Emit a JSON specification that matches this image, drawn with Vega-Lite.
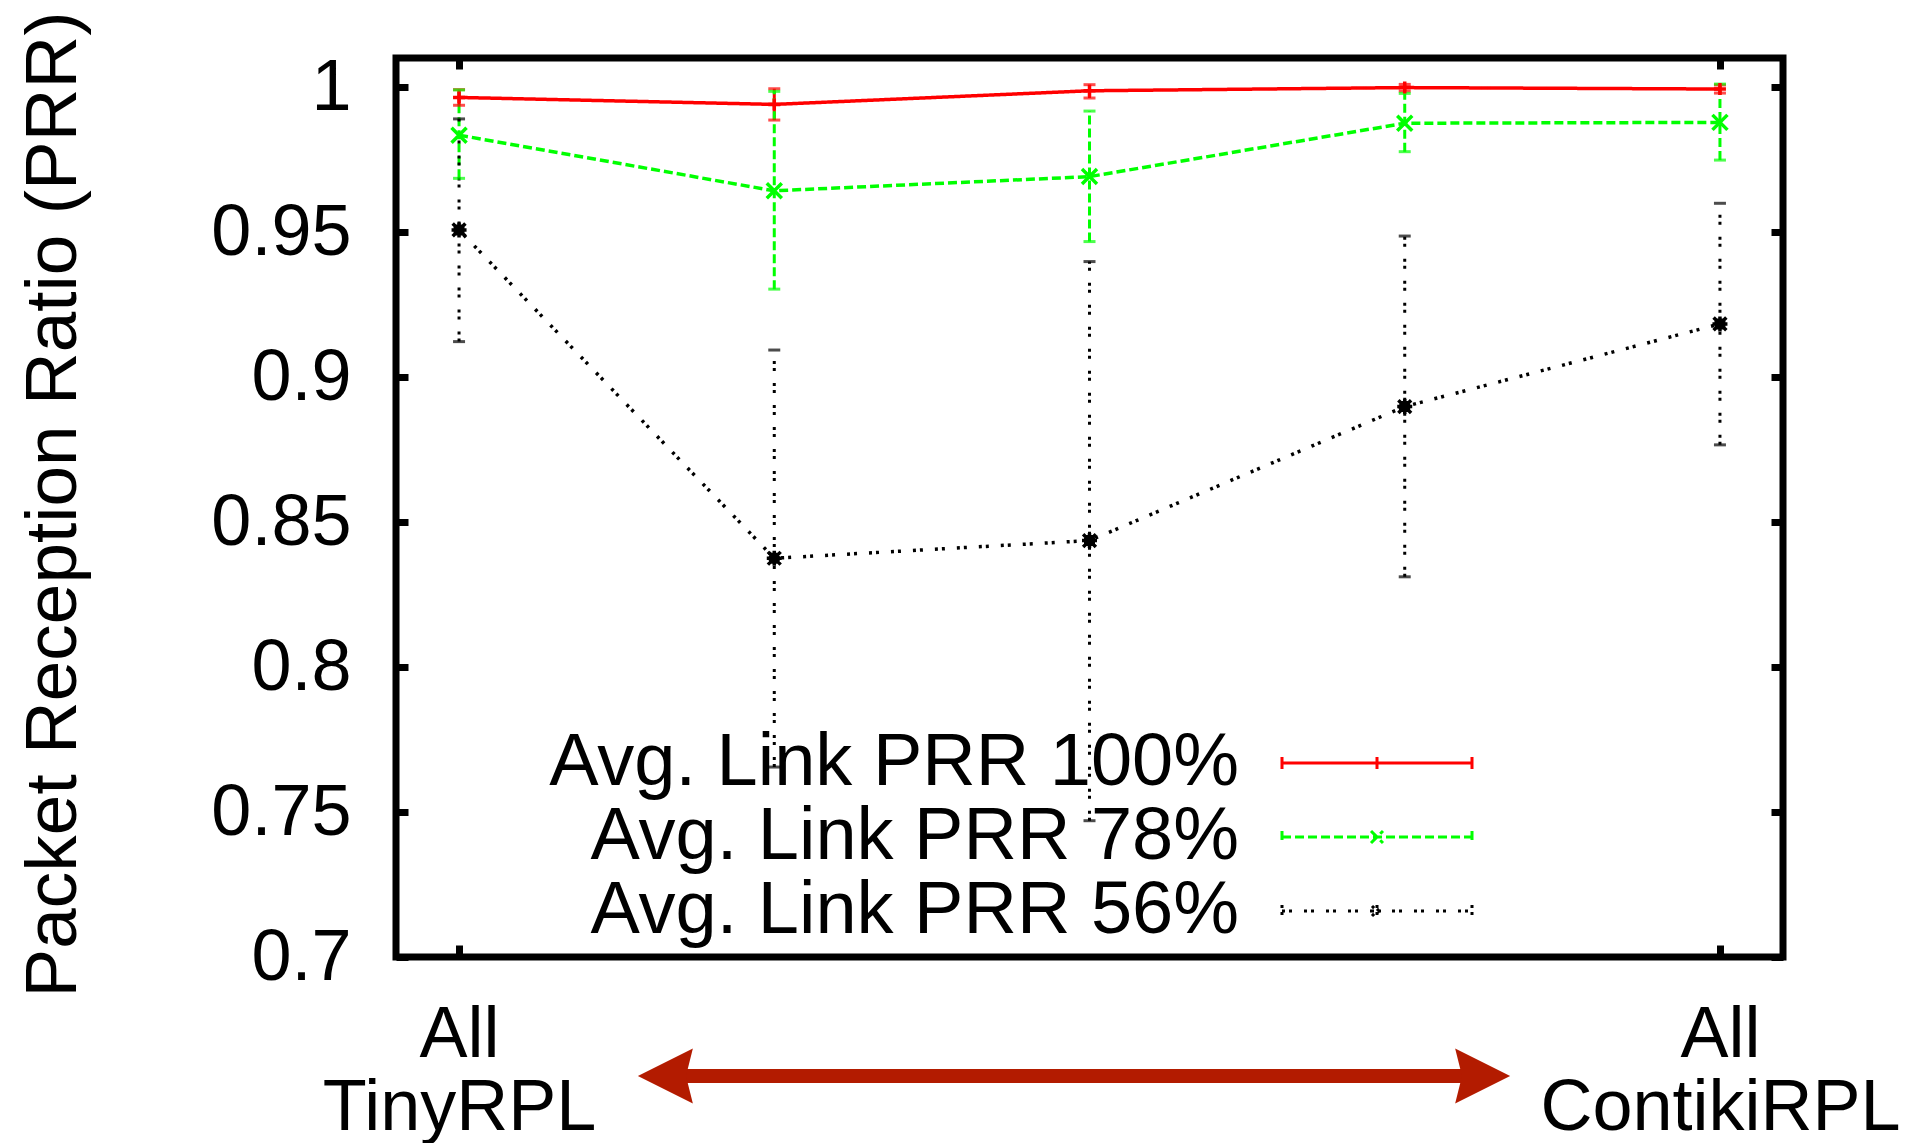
{
  "$schema": "https://vega.github.io/schema/vega-lite/v6.json",
  "width": 1387,
  "height": 899,
  "autosize": {"type": "none"},
  "padding": {"left": 396, "top": 58, "right": 128, "bottom": 186},
  "background": "white",
  "config": {
    "font": "Liberation Sans",
    "view": {"stroke": "black", "strokeWidth": 7},
    "axis": {"grid": false, "domain": false, "tickColor": "black", "tickWidth": 7, "labelColor": "black", "labelFont": "Liberation Sans", "titleFont": "Liberation Sans", "titleColor": "black"}
  },
  "datasets": {
    "prr": [
      {"series": "Avg. Link PRR 100%", "x": 1, "y": 0.9964, "lo": 0.9937, "hi": 0.9991},
      {"series": "Avg. Link PRR 100%", "x": 2, "y": 0.9940, "lo": 0.9886, "hi": 0.9994},
      {"series": "Avg. Link PRR 100%", "x": 3, "y": 0.9987, "lo": 0.9962, "hi": 1.0008},
      {"series": "Avg. Link PRR 100%", "x": 4, "y": 0.9998, "lo": 0.9986, "hi": 1.0009},
      {"series": "Avg. Link PRR 100%", "x": 5, "y": 0.9993, "lo": 0.9979, "hi": 1.0007},
      {"series": "Avg. Link PRR 78%", "x": 1, "y": 0.9834, "lo": 0.9685, "hi": 0.9990},
      {"series": "Avg. Link PRR 78%", "x": 2, "y": 0.9642, "lo": 0.9303, "hi": 0.9985},
      {"series": "Avg. Link PRR 78%", "x": 3, "y": 0.9691, "lo": 0.9467, "hi": 0.9917},
      {"series": "Avg. Link PRR 78%", "x": 4, "y": 0.9875, "lo": 0.9777, "hi": 0.9978},
      {"series": "Avg. Link PRR 78%", "x": 5, "y": 0.9878, "lo": 0.9748, "hi": 1.0010},
      {"series": "Avg. Link PRR 56%", "x": 1, "y": 0.9507, "lo": 0.9122, "hi": 0.9890},
      {"series": "Avg. Link PRR 56%", "x": 2, "y": 0.8375, "lo": 0.7655, "hi": 0.9093},
      {"series": "Avg. Link PRR 56%", "x": 3, "y": 0.8436, "lo": 0.7470, "hi": 0.9398},
      {"series": "Avg. Link PRR 56%", "x": 4, "y": 0.8898, "lo": 0.8311, "hi": 0.9486},
      {"series": "Avg. Link PRR 56%", "x": 5, "y": 0.9183, "lo": 0.8766, "hi": 0.9599}
    ],
    "arrowShaft": [
      {"x": 1.69, "x2": 4.19, "y": 0.659}
    ],
    "arrowHeads": [
      {"end": "left", "x": 1.6545, "y": 0.659},
      {"end": "right", "x": 4.2472, "y": 0.659}
    ]
  },
  "layer": [
    {
      "data": {"name": "prr"},
      "mark": {"type": "line", "strokeWidth": 3.5},
      "encoding": {
        "x": {
          "field": "x", "type": "quantitative",
          "scale": {"domain": [0.8, 5.2], "nice": false, "zero": false},
          "axis": {
            "orient": "bottom", "values": [1, 5],
            "labelExpr": "datum.value == 1 ? ['All', 'TinyRPL'] : ['All', 'ContikiRPL']",
            "tickSize": -12, "tickWidth": 7, "labelPadding": 54,
            "labelFontSize": 72, "labelLineHeight": 73, "labelBaseline": "top", "labelAlign": "center",
            "labelFlush": false, "labelOverlap": false, "labelBound": false, "labelLimit": 0,
            "title": null, "domain": false, "grid": false
          }
        },
        "y": {
          "field": "y", "type": "quantitative",
          "scale": {"domain": [0.7, 1.01], "nice": false, "zero": false},
          "axis": {
            "orient": "left", "values": [0.7, 0.75, 0.8, 0.85, 0.9, 0.95, 1], "format": "~g",
            "tickSize": -12, "tickWidth": 7, "labelPadding": 57, "labelFontSize": 72,
            "labelFlush": false, "labelOverlap": false, "domain": false, "grid": false,
            "title": "Packet Reception Ratio (PRR)", "titleFontSize": 73, "titleFontWeight": "normal",
            "titleX": -321, "titleY": 446, "titleBaseline": "alphabetic", "titleAngle": 270, "titleAlign": "center"
          }
        },
        "color": {
          "field": "series", "type": "nominal",
          "scale": {"domain": ["Avg. Link PRR 100%", "Avg. Link PRR 78%", "Avg. Link PRR 56%"], "range": ["#ff0000", "#00ff00", "#000000"]},
          "legend": {
            "orient": "none", "legendX": 944, "legendY": 668, "title": null,
            "padding": 0, "labelFontSize": 74, "labelColor": "black", "labelAlign": "right", "labelBaseline": "middle",
            "labelOffset": -175, "labelLimit": 0, "symbolSize": 400, "symbolStrokeWidth": 3, "rowPadding": 0,
            "encode": {
              "symbols": {
                "update": {
                  "shape": {"signal": "datum.value === 'Avg. Link PRR 100%' ? 'M-9.5,0L9.5,0M-9.5,-0.6L-9.5,0.6M9.5,-0.6L9.5,0.6M0,-0.6L0,0.6' : datum.value === 'Avg. Link PRR 78%' ? 'M-9.5,0L9.5,0M-9.5,-0.6L-9.5,0.6M9.5,-0.6L9.5,0.6M-0.6,-0.6L0.6,0.6M-0.6,0.6L0.6,-0.6' : 'M-9.5,0L9.5,0M-9.5,-0.6L-9.5,0.6M9.5,-0.6L9.5,0.6M-0.6,0L0.6,0M0,-0.6L0,0.6M-0.5,-0.5L0.5,0.5M-0.5,0.5L0.5,-0.5'"},
                  "fill": {"value": "transparent"},
                  "strokeWidth": {"value": 3}
                }
              }
            }
          }
        },
        "strokeDash": {
          "field": "series", "type": "nominal",
          "scale": {"domain": ["Avg. Link PRR 100%", "Avg. Link PRR 78%", "Avg. Link PRR 56%"], "range": [[1, 0], [9, 4], [3, 4, 3, 12]]}
        }
      }
    },
    {
      "data": {"name": "prr"},
      "mark": {"type": "rule", "strokeWidth": 3},
      "encoding": {
        "x": {
          "field": "x", "type": "quantitative",
          "axis": {"orient": "top", "values": [1, 5], "labels": false, "tickSize": -11, "tickWidth": 7, "title": null, "domain": false, "grid": false}
        },
        "y": {
          "field": "lo", "type": "quantitative",
          "axis": {"orient": "right", "values": [0.7, 0.75, 0.8, 0.85, 0.9, 0.95, 1], "labels": false, "tickSize": -12, "tickWidth": 7, "title": null, "domain": false, "grid": false}
        },
        "y2": {"field": "hi"},
        "color": {"field": "series", "type": "nominal"},
        "strokeDash": {"field": "series", "type": "nominal"}
      }
    },
    {
      "data": {"name": "prr"},
      "transform": [{"fold": ["lo", "hi"], "as": ["end", "val"]}],
      "mark": {"type": "tick", "orient": "horizontal", "size": 12, "thickness": 3},
      "encoding": {
        "x": {"field": "x", "type": "quantitative", "axis": null},
        "y": {"field": "val", "type": "quantitative", "axis": null},
        "color": {"field": "series", "type": "nominal"}
      }
    },
    {
      "data": {"name": "prr"},
      "mark": {"type": "point", "filled": false, "strokeWidth": 3.5, "size": 225, "opacity": 1},
      "encoding": {
        "x": {"field": "x", "type": "quantitative", "axis": null},
        "y": {"field": "y", "type": "quantitative", "axis": null},
        "color": {"field": "series", "type": "nominal"},
        "shape": {
          "field": "series", "type": "nominal", "legend": null,
          "scale": {"domain": ["Avg. Link PRR 100%", "Avg. Link PRR 78%", "Avg. Link PRR 56%"], "range": ["M-0.8,0L0.8,0M0,-0.8L0,0.8", "M-1,-1L1,1M-1,1L1,-1", "M-1,0L1,0M0,-1L0,1M-0.85,-0.85L0.85,0.85M-0.85,0.85L0.85,-0.85M-0.5,-0.5L0.5,-0.5L0.5,0.5L-0.5,0.5Z"]}
        }
      }
    },
    {
      "data": {"name": "arrowShaft"},
      "mark": {"type": "rule", "strokeWidth": 14, "color": "#b31b00"},
      "encoding": {
        "x": {"field": "x", "type": "quantitative", "axis": null},
        "x2": {"field": "x2"},
        "y": {"field": "y", "type": "quantitative", "axis": null}
      }
    },
    {
      "data": {"name": "arrowHeads"},
      "mark": {"type": "point", "filled": true, "size": 3025, "opacity": 1, "color": "#b31b00", "strokeWidth": 0},
      "encoding": {
        "x": {"field": "x", "type": "quantitative", "axis": null},
        "y": {"field": "y", "type": "quantitative", "axis": null},
        "shape": {
          "field": "end", "type": "nominal", "legend": null,
          "scale": {"domain": ["left", "right"], "range": ["M-1,0L1,-1L0.75,0L1,1Z", "M1,0L-1,-1L-0.75,0L-1,1Z"]}
        }
      }
    }
  ],
  "resolve": {
    "scale": {"shape": "independent"},
    "axis": {"x": "independent", "y": "independent"}
  }
}
